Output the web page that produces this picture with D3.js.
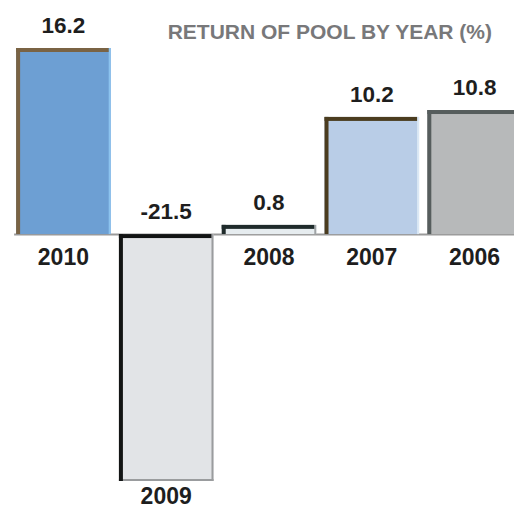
<!DOCTYPE html>
<html>
<head>
<meta charset="utf-8">
<script src="https://cdn.jsdelivr.net/npm/d3@7"></script>
<style>
  html, body { margin: 0; padding: 0; background: #ffffff; }
  svg { display: block; }
  text { font-family: "Liberation Sans", Arial, Helvetica, sans-serif; font-weight: bold; }
</style>
</head>
<body>
<svg id="chart" width="514" height="508"></svg>
<script>
// ---- data ----
const years = ["2010", "2009", "2008", "2007", "2006"];
const returns = [16.2, -21.5, 0.8, 10.2, 10.8];
const valueLabels = ["16.2", "-21.5", "0.8", "10.2", "10.8"];
const title = "RETURN OF POOL BY YEAR (%)";

// ---- styles ----
const fillColor = d3.scaleOrdinal().domain(years)
  .range(["#6d9fd3", "#e2e4e7", "#e6ecef", "#b9cde7", "#b7b9ba"]);
const edgeColor = d3.scaleOrdinal().domain(years)
  .range(["#7a6344", "#121414", "#1f2b2b", "#4b3c1f", "#565d5d"]);
const rimColor = d3.scaleOrdinal().domain(years)
  .range(["#8cc3ee", "#9a9c9e", "#a0a4a6", "#dbe8f5", "#d2d4d5"]);

const data = years.map((y, i) => ({ year: y, value: returns[i], label: valueLabels[i] }));

const svg = d3.select("#chart");

const x = d3.scaleBand().domain(years).range([12, 526]).paddingInner(0.08).paddingOuter(0.04);
const y = d3.scaleLinear().domain([d3.min(returns), d3.max(returns)]).range([481, 48]);
const y0 = y(0);

// baseline
svg.append("line")
  .attr("x1", x(years[0]) - 2).attr("x2", 514)
  .attr("y1", y0 + 0.5).attr("y2", y0 + 0.5)
  .attr("stroke", "#9a9a9a").attr("stroke-width", 2);

const edge = 4, rim = 2;
const bars = svg.append("g").selectAll("g").data(data).join("g");

bars.each(function(d) {
  const g = d3.select(this);
  const bx = x(d.year), bw = x.bandwidth();
  const top = Math.min(y(d.value), y0), bot = Math.max(y(d.value), y0);
  const h = bot - top;
  // body
  g.append("rect").attr("x", bx).attr("y", top).attr("width", bw).attr("height", h)
    .attr("fill", fillColor(d.year));
  // right/bottom rim
  g.append("rect").attr("x", bx + bw - rim).attr("y", top).attr("width", rim).attr("height", h)
    .attr("fill", rimColor(d.year));
  if (d.value < 0) {
    g.append("rect").attr("x", bx).attr("y", bot - rim).attr("width", bw).attr("height", rim)
      .attr("fill", rimColor(d.year));
  }
  // top edge
  g.append("rect").attr("x", bx).attr("y", top).attr("width", bw - rim).attr("height", Math.min(edge, h))
    .attr("fill", edgeColor(d.year));
  // left edge
  g.append("rect").attr("x", bx).attr("y", top).attr("width", edge).attr("height", h)
    .attr("fill", edgeColor(d.year));
});

// value labels
svg.append("g").selectAll("text").data(data).join("text")
  .attr("x", d => x(d.year) + x.bandwidth() / 2)
  .attr("y", d => Math.min(y(d.value), y0) - 15)
  .attr("text-anchor", "middle")
  .attr("font-size", 22.5)
  .attr("fill", "#1e1e1e")
  .text(d => d.label);

// year labels
svg.append("g").selectAll("text").data(data).join("text")
  .attr("x", d => x(d.year) + x.bandwidth() / 2)
  .attr("y", d => Math.max(y(d.value), y0) + (d.value < 0 ? 23 : 31))
  .attr("text-anchor", "middle")
  .attr("font-size", 23)
  .attr("fill", "#1e1e1e")
  .text(d => d.year);

// title
svg.append("text")
  .attr("x", 492).attr("y", 39)
  .attr("text-anchor", "end")
  .attr("font-size", 21)
  .attr("fill", "#78787a")
  .text(title);
</script>
</body>
</html>
